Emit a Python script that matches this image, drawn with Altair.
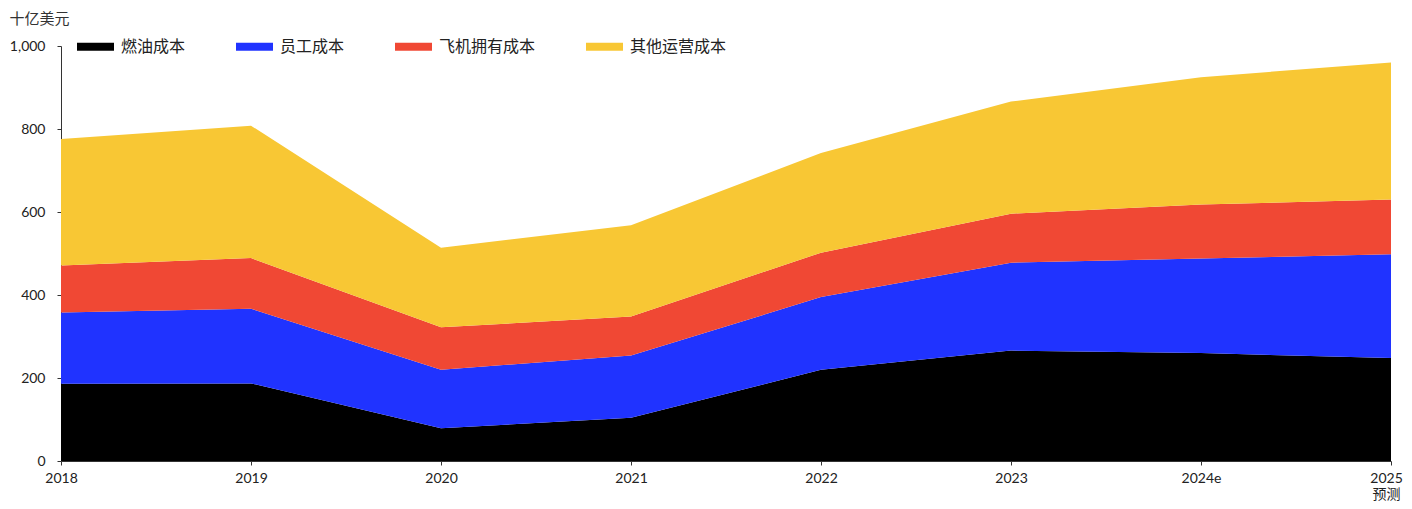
import altair as alt
import pandas as pd

years = ["2018", "2019", "2020", "2021", "2022", "2023", "2024e", "2025"]
series = ["燃油成本", "员工成本", "飞机拥有成本", "其他运营成本"]
colors = ["#000000", "#2033FF", "#F04834", "#F8C734"]

fuel = [186, 187, 79, 104, 220, 266, 260, 248]
staff = [172, 180, 141, 150, 175, 212, 228, 250]
ownership = [113, 122, 102, 94, 107, 118, 130, 132]
other = [305, 319, 192, 220, 240, 270, 307, 330]

values = [fuel, staff, ownership, other]
rows = []
for i, (name, vals) in enumerate(zip(series, values)):
    for y, v in zip(years, vals):
        rows.append({"year": y, "series": name, "value": v, "idx": i})
df = pd.DataFrame(rows)

FONT = "Lato, Noto Sans CJK SC, sans-serif"
CJK = "Noto Sans CJK SC, sans-serif"

chart = alt.Chart(df).mark_area(opacity=1).encode(
    x=alt.X(
        "year:O",
        sort=years,
        scale=alt.Scale(type="point", padding=0),
        axis=alt.Axis(
            title=None,
            labelAngle=0,
            labelFont=FONT,
            labelFontSize=14,
            labelColor="#222222",
            labelPadding=6,
            labelBaseline="top",
            labelOffset={"condition": {"test": "datum.value == '2025'", "value": -5}, "value": 0},
            tickSize=4,
            tickColor="#333333",
            domainColor="#333333",
            labelExpr="datum.value == '2025' ? ['2025', '预测'] : datum.value",
            labelLineHeight=16,
            labelBound=False,
            grid=False,
        ),
    ),
    y=alt.Y(
        "value:Q",
        stack="zero",
        scale=alt.Scale(domain=[0, 1000]),
        axis=alt.Axis(
            values=[0, 200, 400, 600, 800, 1000],
            format=",d",
            title="十亿美元",
            titleAngle=0,
            titleAlign="left",
            titleBaseline="top",
            titleX=-52,
            titleY=-35,
            titleFont=CJK,
            titleFontSize=15,
            titleFontWeight="normal",
            titleColor="#333333",
            labelFont=FONT,
            labelFontSize=14,
            labelColor="#222222",
            labelPadding=12,
            tickSize=4,
            tickColor="#333333",
            domainColor="#333333",
            grid=False,
        ),
    ),
    color=alt.Color(
        "series:N",
        sort=series,
        scale=alt.Scale(domain=series, range=colors),
        legend=alt.Legend(
            title=None,
            orient="none",
            direction="horizontal",
            legendX=16,
            legendY=-18,
            symbolType="M-1,-0.22H1V0.22H-1Z",
            symbolSize=1369,
            symbolStrokeWidth=0,
            symbolOpacity=1,
            labelFont=CJK,
            labelFontSize=16,
            labelColor="#222222",
            labelOffset=7,
            columnPadding=50,
        ),
    ),
    order=alt.Order("idx:Q", sort="ascending"),
).properties(
    width=1330,
    height=415,
    autosize=alt.AutoSizeParams(type="none"),
    padding={"left": 53, "top": 38, "right": 13, "bottom": 40},
).configure_view(stroke=None)

chart.save("out.html", embed_options={"renderer": "svg", "actions": False})
